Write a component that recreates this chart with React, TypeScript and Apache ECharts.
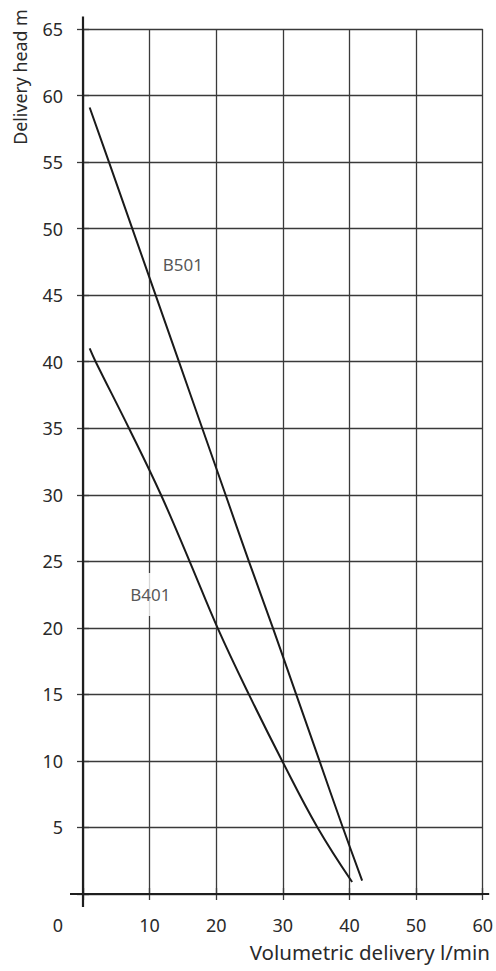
import React, { useEffect, useRef } from "react";
import * as echarts from "echarts";

// Data
const b501X = [1.0, 3.9, 7.4, 10.9, 14.4, 17.9, 21.4, 24.9, 28.5, 32.0, 35.5, 39.0, 41.9];
const b501Y = [59.1, 55, 50, 45, 40, 35, 30, 25, 20, 15, 10, 5, 1.0];
const b401X = [1.0, 1.9, 6.9, 11.7, 16.0, 20.2, 24.9, 29.9, 35.2, 40.4];
const b401Y = [41.0, 40, 35, 30, 25, 20, 15, 10, 5, 0.9];
const curveNames = ["B501", "B401"];
const labelX = [15.0, 10.1];
const labelY = [47.3, 22.5];
const xTitle = "Volumetric delivery l/min";
const yTitle = "Delivery head m";

const FONT = "'Noto Sans', 'DejaVu Sans', sans-serif";
const TEXT = "#2a2a2a";
const GRID = "#3a3a3a";
const AXIS = "#1e1e1e";

export default function App() {
  const ref = useRef<HTMLDivElement>(null);
  useEffect(() => {
    if (!ref.current) return;
    const chart = echarts.init(ref.current, null, { renderer: "svg" });
    const zip = (xs: number[], ys: number[]) => xs.map((x, i) => [x, ys[i]]);
    const tickCommon = { show: true, length: 6, inside: false, lineStyle: { color: GRID, width: 1.3 } };
    chart.setOption({
      animation: false,
      grid: { left: 83, right: 13, top: 29, bottom: 77 },
      xAxis: [
        {
          type: "value",
          min: 0,
          max: 60,
          interval: 10,
          axisLine: { show: false },
          axisTick: tickCommon,
          splitLine: { show: true, lineStyle: { color: GRID, width: 1.3 } },
          axisLabel: {
            margin: 22,
            color: TEXT,
            fontSize: 18,
            fontFamily: FONT,
            formatter: (v: number) => (v === 0 ? "{z|0}" : String(v)),
            rich: { z: { padding: [0, 50, 0, 0], fontSize: 18, fontFamily: FONT, color: TEXT } },
          },
        },
        {
          type: "value",
          position: "top",
          min: 0,
          max: 60,
          interval: 10,
          axisLine: { show: false },
          axisTick: tickCommon,
          splitLine: { show: false },
          axisLabel: { show: false },
        },
      ],
      yAxis: [
        {
          type: "value",
          min: 0,
          max: 65,
          interval: 5,
          axisLine: { show: false },
          axisTick: tickCommon,
          splitLine: { show: true, lineStyle: { color: GRID, width: 1.3 } },
          axisLabel: {
            margin: 20,
            color: TEXT,
            fontSize: 18,
            fontFamily: FONT,
            formatter: (v: number) => (v === 0 ? "" : String(v)),
          },
        },
        {
          type: "value",
          position: "right",
          min: 0,
          max: 65,
          interval: 5,
          axisLine: { show: false },
          axisTick: tickCommon,
          splitLine: { show: false },
          axisLabel: { show: false },
        },
      ],
      series: [
        {
          name: curveNames[0],
          type: "line",
          data: zip(b501X, b501Y),
          smooth: 0.4,
          showSymbol: false,
          lineStyle: { color: "#1a1a1a", width: 2 },
        },
        {
          name: curveNames[1],
          type: "line",
          data: zip(b401X, b401Y),
          smooth: 0.4,
          showSymbol: false,
          lineStyle: { color: "#1a1a1a", width: 2 },
        },
        {
          type: "scatter",
          symbolSize: 0,
          data: curveNames.map((n, i) => ({ name: n, value: [labelX[i], labelY[i]] })),
          label: {
            show: true,
            position: "inside",
            formatter: (p: any) => p.name,
            color: TEXT,
            fontSize: 17,
            fontFamily: FONT,
            backgroundColor: "#ffffff",
            padding: [13, 3],
          },
          silent: true,
        },
      ],
    });

    const o = chart.convertToPixel({ gridIndex: 0 }, [0, 0]) as number[];
    const tr = chart.convertToPixel({ gridIndex: 0 }, [60, 65]) as number[];
    chart.setOption({
      graphic: [
        {
          type: "line",
          shape: { x1: o[0], y1: tr[1] - 12.5, x2: o[0], y2: o[1] + 13 },
          style: { stroke: AXIS, lineWidth: 2.2 },
          z: 10,
        },
        {
          type: "line",
          shape: { x1: o[0] - 13, y1: o[1], x2: tr[0] + 6.5, y2: o[1] },
          style: { stroke: AXIS, lineWidth: 2.2 },
          z: 10,
        },
        {
          type: "text",
          x: 20,
          y: 77,
          rotation: Math.PI / 2,
          style: {
            text: yTitle,
            fill: TEXT,
            font: `17.8px ${FONT}`,
            textAlign: "center",
            textVerticalAlign: "middle",
          },
        },
        {
          type: "text",
          x: 490,
          y: 952,
          style: {
            text: xTitle,
            fill: TEXT,
            font: `20.5px ${FONT}`,
            textAlign: "right",
            textVerticalAlign: "middle",
          },
        },
      ],
    });
    return () => chart.dispose();
  }, []);
  return <div ref={ref} style={{ width: 496, height: 971, position: "absolute", left: 0, top: 0 }} />;
}
